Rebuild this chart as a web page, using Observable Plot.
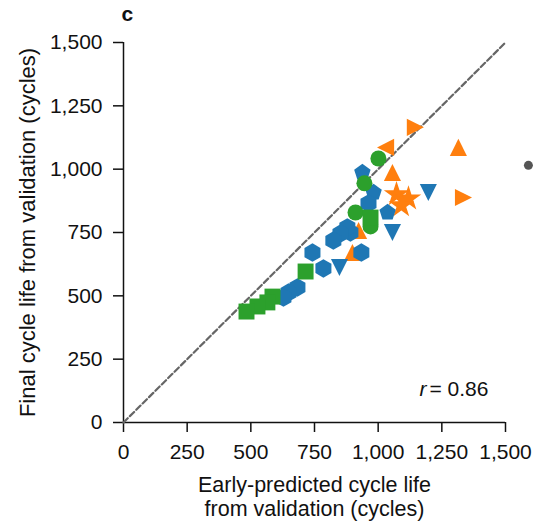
<!DOCTYPE html>
<html>
<head>
<meta charset="utf-8">
<script src="https://cdn.jsdelivr.net/npm/d3@7"></script>
<script src="https://cdn.jsdelivr.net/npm/@observablehq/plot@0.6"></script>
<style>
  html, body { margin: 0; padding: 0; background: white; }
</style>
</head>
<body>
<div id="chart"></div>
<script>
// ---- data (early-predicted x, final y) ----
const xTicks = [0, 250, 500, 750, 1000, 1250, 1500];
const yTicks = [0, 250, 500, 750, 1000, 1250, 1500];
const identityLine = [[0, 0], [1500, 1500]];

// orange series
const orangeUp = [[1315, 1086], [1056, 987], [923, 758], [899, 671]];
const orangeLeft = [[1029, 1086]];
const orangeRight = [[1146, 1165], [1335, 888]];
const orangeStar = [[1072, 900], [1119, 884], [1091, 857]];

// blue series
const bluePentagon = [[938, 987], [982, 908], [1037, 829]];
const blueHexagon = [[962, 865], [934, 671], [891, 750], [879, 770], [852, 746], [824, 718],
                     [742, 671], [785, 608], [683, 533], [648, 513], [628, 493]];
const blueDown = [[1197, 908], [1056, 750], [848, 612]];

// green series
const greenCircle = [[1001, 1042], [946, 944], [911, 829], [970, 774]];
const greenSquare = [[970, 809], [715, 596], [585, 497], [565, 474], [526, 458], [483, 438]];

// stray marker outside the axes
const strayDot = [[1590, 1015]];

const panelLabel = "c";
const xTitle = ["Early-predicted cycle life", "from validation (cycles)"];
const yTitle = "Final cycle life from validation (cycles)";
const rLabel = "r";
const rValue = "= 0.86";

const colors = { blue: "#1f77b4", orange: "#ff7f0e", green: "#2ca02c" };

// ---- custom symbols ----
function triangle(dir) {
  return {
    draw(ctx, size) {
      const h = Math.sqrt(size / Math.PI) * 1.14;
      const pts = {
        up: [[0, -h], [-h, h], [h, h]],
        down: [[0, h], [-h, -h], [h, -h]],
        left: [[-h, 0], [h, -h], [h, h]],
        right: [[h, 0], [-h, -h], [-h, h]]
      }[dir];
      ctx.moveTo(pts[0][0], pts[0][1]);
      ctx.lineTo(pts[1][0], pts[1][1]);
      ctx.lineTo(pts[2][0], pts[2][1]);
      ctx.closePath();
    }
  };
}
const pentagon = {
  draw(ctx, size) {
    const R = Math.sqrt(size / Math.PI) * 1.15;
    for (let i = 0; i < 5; i++) {
      const a = -Math.PI / 2 + i * 2 * Math.PI / 5;
      const px = R * Math.cos(a), py = R * Math.sin(a);
      if (i) ctx.lineTo(px, py); else ctx.moveTo(px, py);
    }
    ctx.closePath();
  }
};

const px = d => d[0], py = d => d[1];
const dots = (data, symbol, fill, r) =>
  Plot.dot(data, { x: px, y: py, symbol, fill, r });

const chart = Plot.plot({
  width: 534,
  height: 523,
  marginLeft: 123,
  marginRight: 29,
  marginTop: 42,
  marginBottom: 101,
  style: "font-family: 'Liberation Sans', Arial, sans-serif; font-size: 21px; color: #111; background: white; overflow: visible;",
  x: { domain: [0, 1500] },
  y: { domain: [0, 1500] },
  marks: [
    Plot.axisX({ ticks: xTicks, tickFormat: d3.format(","), tickSize: 10, tickPadding: 12, label: null, strokeWidth: 1.5 }),
    Plot.axisY({ ticks: yTicks, tickFormat: d3.format(","), tickSize: 10, tickPadding: 11, label: null, strokeWidth: 1.5 }),
    Plot.ruleX([0], { strokeWidth: 1.5 }),
    Plot.ruleY([0], { strokeWidth: 1.5 }),
    Plot.line(identityLine, { x: px, y: py, stroke: "#666", strokeWidth: 2.2, strokeDasharray: "6,3" }),
    dots(orangeUp, triangle("up"), colors.orange, 7.5),
    dots(orangeLeft, triangle("left"), colors.orange, 7.5),
    dots(orangeRight, triangle("right"), colors.orange, 7.5),
    dots(orangeStar, "star", colors.orange, 8),
    dots(bluePentagon, pentagon, colors.blue, 7.5),
    dots(blueHexagon, "hexagon", colors.blue, 8),
    dots(blueDown, triangle("down"), colors.blue, 7.5),
    dots(greenCircle, "circle", colors.green, 8),
    dots(greenSquare, "square", colors.green, 9),
    Plot.dot(strayDot, { x: px, y: py, r: 4.5, fill: "#555" }),
    Plot.text([panelLabel], { frameAnchor: "top-left", textAnchor: "start", lineAnchor: "top", dx: -2, dy: -36, fontWeight: "bold", fontSize: 21 }),
    Plot.text([xTitle.join("\n")], { frameAnchor: "bottom", textAnchor: "middle", lineAnchor: "top", dy: 53, lineHeight: 1.1, fontSize: 21.5 }),
    Plot.text([yTitle], { frameAnchor: "left", textAnchor: "middle", lineAnchor: "middle", rotate: -90, dx: -96, fontSize: 22 }),
    Plot.text([rLabel], { frameAnchor: "bottom-right", textAnchor: "end", dx: -79, dy: -27, fontStyle: "italic" }),
    Plot.text([rValue], { frameAnchor: "bottom-right", textAnchor: "start", dx: -76, dy: -27 })
  ]
});
document.getElementById("chart").append(chart);
</script>
</body>
</html>
